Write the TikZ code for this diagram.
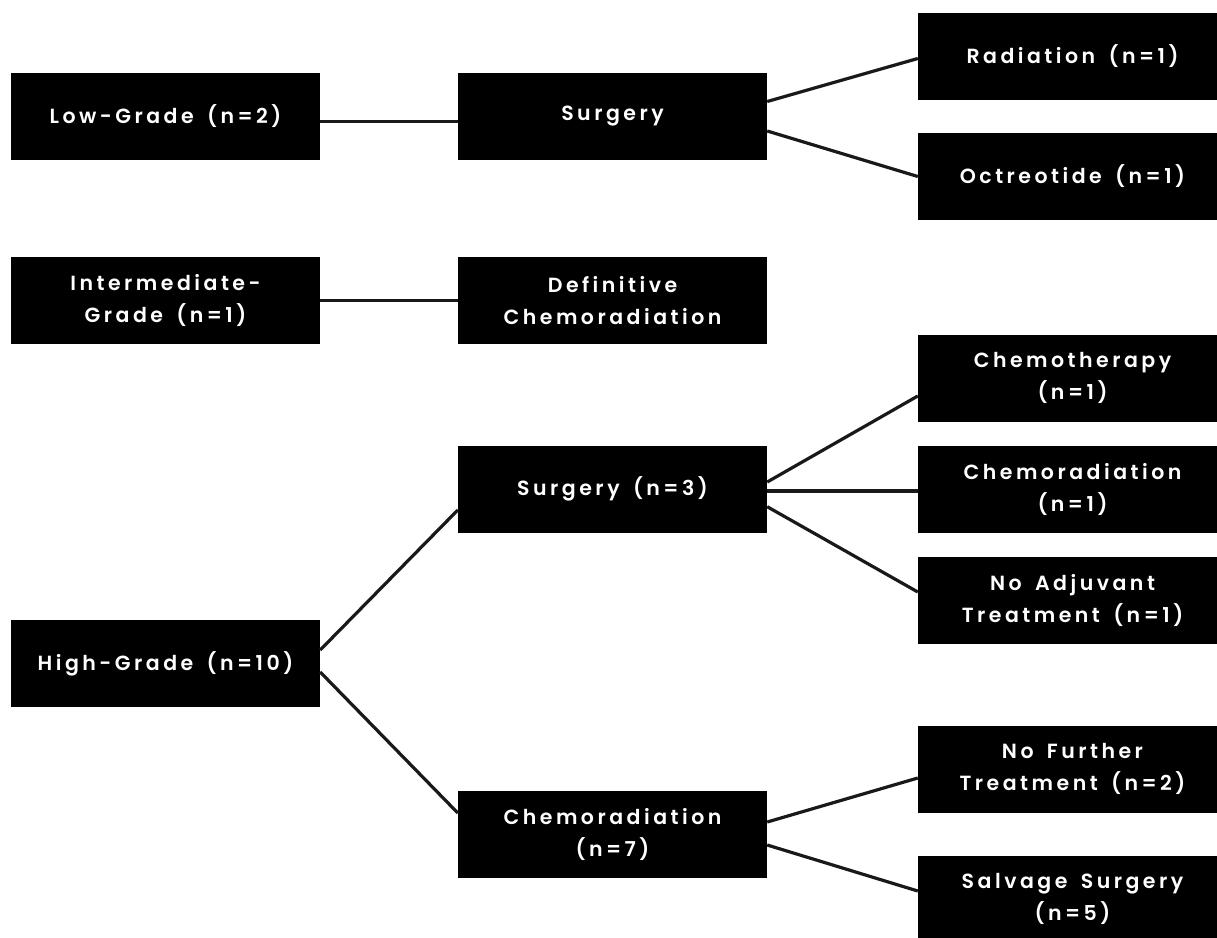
\documentclass[tikz,border=0pt]{standalone}
\usepackage{fontspec}
\newfontfamily\boxfont{Poppins SemiBold}[LetterSpace=17,WordSpace=1.6]
\begin{document}
\begin{tikzpicture}[x=1pt,y=-1pt,
  tbox/.style={rectangle, fill=black, text=white, minimum width=309pt, minimum height=87pt,
    inner sep=0pt, align=center, font=\boxfont\fontsize{20.5}{32}\selectfont},
  conn/.style={line width=3.2pt, draw=black!90}]
\useasboundingbox (0,0) rectangle (1217,937);
\clip (0,0) rectangle (1217,937);
% left column
\node[tbox] (low)  at (165.5,116.5) {Low-Grade (n=2)};
\node[tbox] (int)  at (165.5,300.5) {Intermediate-\\Grade (n=1)};
\node[tbox] (high) at (165.5,663.5) {High-Grade (n=10)};
% middle column
\node[tbox] (surg)  at (612.5,116.5) {Surgery};
\node[tbox] (def)   at (612.5,300.5) {Definitive\\Chemoradiation};
\node[tbox] (surg3) at (612.5,489)   {Surgery (n=3)};
\node[tbox] (chem7) at (612.5,834)   {Chemoradiation\\(n=7)};
% right column
\node[tbox] (rad)   at (1072.5,56.5)  {Radiation (n=1)};
\node[tbox] (oct)   at (1072.5,176.5) {Octreotide (n=1)};
\node[tbox] (cht)   at (1072.5,378)   {Chemotherapy\\(n=1)};
\node[tbox] (chr1)  at (1072.5,489)   {Chemoradiation\\(n=1)};
\node[tbox] (noadj) at (1072.5,600)   {No Adjuvant\\Treatment (n=1)};
\node[tbox] (nofur) at (1072.5,769)   {No Further\\Treatment (n=2)};
\node[tbox] (salv)  at (1072.5,899)   {Salvage Surgery\\(n=5)};
% connectors
\draw[conn] ([yshift=-5pt]low.east) -- ([yshift=-5pt]surg.west);
\draw[conn] ([yshift=15pt]surg.east) -- ([yshift=-2pt]rad.west);
\draw[conn] ([yshift=-14.5pt]surg.east) -- (oct.west);
\draw[conn] (int.east) -- (def.west);
\draw[conn] ([yshift=13.5pt]high.east) -- ([yshift=-21pt]surg3.west);
\draw[conn] ([yshift=-8.5pt]high.east) -- ([yshift=21pt]chem7.west);
\draw[conn] ([yshift=7pt]surg3.east) -- ([yshift=-18pt]cht.west);
\draw[conn] ([yshift=-2pt]surg3.east) -- ([yshift=-2pt]chr1.west);
\draw[conn] ([yshift=-17.7pt]surg3.east) -- ([yshift=8pt]noadj.west);
\draw[conn] ([yshift=12pt]chem7.east) -- ([yshift=-9pt]nofur.west);
\draw[conn] ([yshift=-11pt]chem7.east) -- ([yshift=8pt]salv.west);
\end{tikzpicture}
\end{document}
